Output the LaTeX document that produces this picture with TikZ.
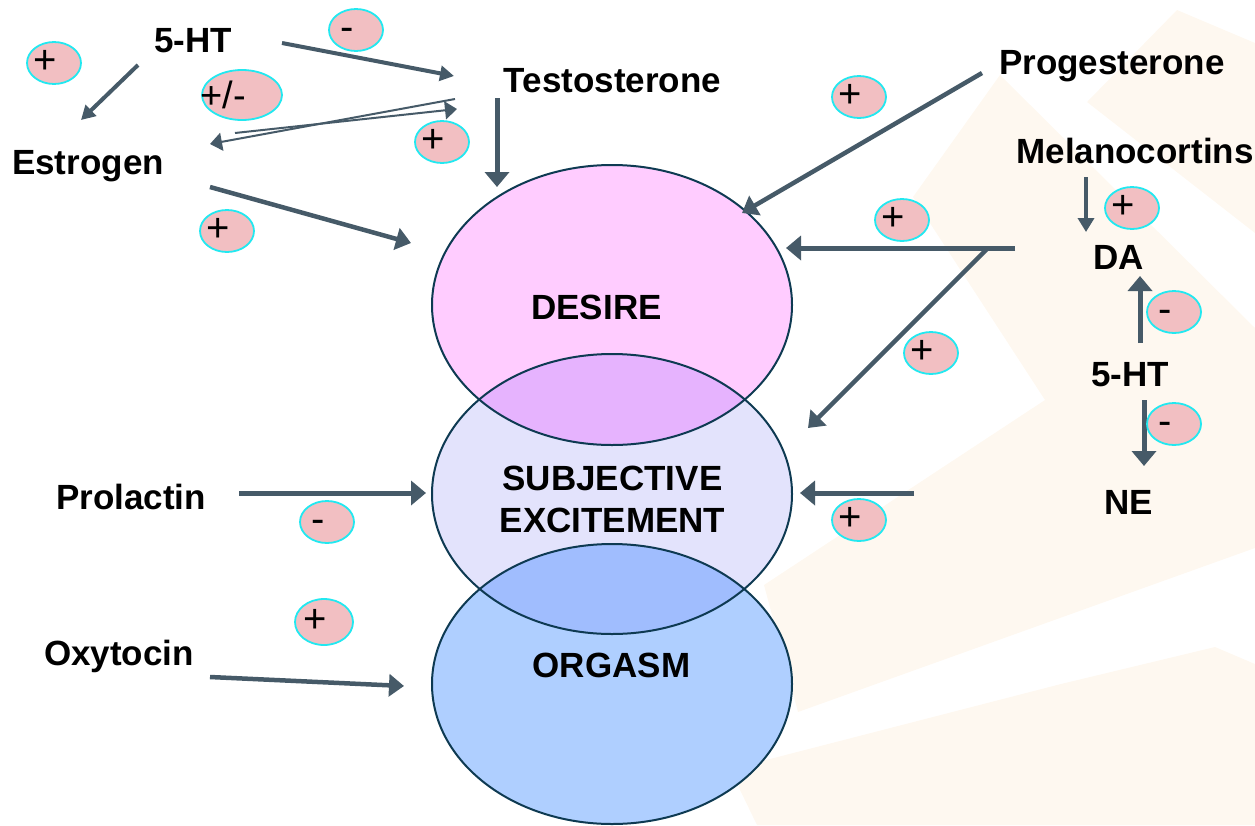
\documentclass[tikz,border=0pt]{standalone}
\usepackage{fontspec}
\setmainfont{Liberation Sans}
\usetikzlibrary{arrows.meta,shapes.geometric}
\definecolor{arrowc}{HTML}{465A68}
\definecolor{edgec}{HTML}{0E3A52}
\definecolor{cream}{HTML}{FEF8F0}
\definecolor{badgefill}{HTML}{F2BFC2}
\definecolor{badgeedge}{HTML}{22E8F0}
\definecolor{cdesire}{HTML}{FFCCFF}
\definecolor{cexcite}{HTML}{E3E3FC}
\definecolor{corgasm}{HTML}{AFCFFF}
\definecolor{cover}{HTML}{E6B3FE}
\definecolor{covertwo}{HTML}{A0BDFE}
\tikzset{
  lbl/.style={font=\bfseries\fontsize{35}{42}\selectfont,text=black,inner sep=0pt,align=center},
  phase/.style={ellipse,minimum width=360pt,minimum height=280pt,inner sep=0pt,draw=edgec,line width=2pt},
  badge/.style={ellipse,minimum width=54pt,minimum height=42pt,inner sep=0pt,fill=badgefill,draw=badgeedge,line width=1.8pt,font=\fontsize{40}{40}\selectfont},
  bigbadge/.style={badge,minimum width=80pt,minimum height=50pt,font=\fontsize{38}{38}\selectfont},
  big arrow/.style={draw=arrowc,line width=5pt,-{Triangle[length=15pt,width=24pt]}},
  wide arrow/.style={draw=arrowc,line width=4.5pt,-{Triangle[length=15pt,width=22pt]}},
  mid arrow/.style={draw=arrowc,line width=4.5pt,-{Triangle[length=14pt,width=16pt]}},
  slim arrow/.style={draw=arrowc,line width=4pt,-{Triangle[length=14pt,width=15pt]}},
  thin arrow/.style={draw=arrowc,line width=2pt,-{Triangle[length=12pt,width=18pt]}},
}
\newcommand{\sgn}[1]{\makebox[0pt]{\raisebox{2pt}{\vphantom{+}#1}\kern18pt}}
\begin{document}
\begin{tikzpicture}[x=1pt,y=-1pt]
\useasboundingbox (0,0) rectangle (1255,825);
% background swoosh
\fill[cream] (1000,75) -- (1255,328) -- (1255,548) -- (798,712) -- (764,585) -- (1045,400) -- (913,197) -- cycle;
\fill[cream] (1177,10) -- (1087,102) -- (1255,233) -- (1255,43) -- cycle;
\fill[cream] (735,768) -- (1061,684) -- (1215,647) -- (1255,664) -- (1255,825) -- (757,825) -- (740,790) -- cycle;
% phases: fills and overlaps
\fill[cdesire] (612,305) ellipse [x radius=180pt,y radius=140pt];
\fill[cexcite] (612,494) ellipse [x radius=180pt,y radius=140pt];
\fill[corgasm] (612,684) ellipse [x radius=180pt,y radius=140pt];
\begin{scope}
\clip (612,305) ellipse [x radius=180pt,y radius=140pt];
\fill[cover] (612,494) ellipse [x radius=180pt,y radius=140pt];
\end{scope}
\begin{scope}
\clip (612,494) ellipse [x radius=180pt,y radius=140pt];
\fill[covertwo] (612,684) ellipse [x radius=180pt,y radius=140pt];
\end{scope}
\node[phase] (desire) at (612,305) {};
\node[phase] (excite) at (612,494) {};
\node[phase] (orgasm) at (612,684) {};
% labels
\node[lbl] (tdesire) at (596.5,307) {DESIRE};
\node[lbl] (texcite) at (612.5,499) {SUBJECTIVE\\EXCITEMENT};
\node[lbl] (torgasm) at (611.5,665) {ORGASM};
\node[lbl] (htl) at (193,40.5) {5-HT};
\node[lbl] (estrogen) at (88,166) {Estrogen};
\node[lbl] (testo) at (612.5,80.5) {Testosterone};
\node[lbl] (proges) at (1112,66) {Progesterone};
\node[lbl] (melano) at (1135,151) {Melanocortins};
\node[lbl] (da) at (1118.5,257) {DA};
\node[lbl] (htr) at (1130,375) {5-HT};
\node[lbl] (ne) at (1128.5,502) {NE};
\node[lbl] (prolactin) at (131,497) {Prolactin};
\node[lbl] (oxytocin) at (119,656) {Oxytocin};
% connector ends
\coordinate (a1) at (138,65); \coordinate (a2) at (81,120);
\coordinate (b1) at (282,43); \coordinate (b2) at (454,76);
\coordinate (c1) at (455,99); \coordinate (c2) at (210,144);
\coordinate (d1) at (235,133); \coordinate (d2) at (457,109);
\coordinate (e1) at (497,98); \coordinate (e2) at (497,187);
\coordinate (f1) at (210,187); \coordinate (f2) at (411,243);
\coordinate (g1) at (982,73); \coordinate (g2) at (742,213);
\coordinate (h1) at (1015,248); \coordinate (h2) at (786,248);
\coordinate (i1) at (988,248); \coordinate (i2) at (808,428);
\coordinate (j1) at (914,493); \coordinate (j2) at (800,493);
\coordinate (k1) at (239,493); \coordinate (k2) at (426,493);
\coordinate (l1) at (210,677); \coordinate (l2) at (404,686);
\coordinate (m1) at (1086,177); \coordinate (m2) at (1086,232);
\coordinate (n1) at (1140,343); \coordinate (n2) at (1140,276);
\coordinate (o1) at (1144,400); \coordinate (o2) at (1144,466);
% arrows
\draw[slim arrow] (a1) -- (a2);
\draw[slim arrow] (b1) -- (b2);
\draw[thin arrow] (c1) -- (c2);
\draw[thin arrow] (d1) -- (d2);
\draw[big arrow] (e1) -- (e2);
\draw[wide arrow] (f1) -- (f2);
\draw[wide arrow] (g1) -- (g2);
\draw[big arrow] (h1) -- (h2);
\draw[wide arrow] (i1) -- (i2);
\draw[big arrow] (j1) -- (j2);
\draw[big arrow] (k1) -- (k2);
\draw[wide arrow] (l1) -- (l2);
\draw[mid arrow] (m1) -- (m2);
\draw[big arrow] (n1) -- (n2);
\draw[big arrow] (o1) -- (o2);
% badges
\node[badge] (p1) at (54,63) {\sgn{+}};
\node[badge] (p2) at (356,30) {\sgn{-}};
\node[bigbadge] (p3) at (242,95) {\makebox[0pt]{+/-\kern38pt}};
\node[badge] (p4) at (442,142) {\sgn{+}};
\node[badge] (p5) at (227,231) {\sgn{+}};
\node[badge] (p6) at (859,97) {\sgn{+}};
\node[badge] (p7) at (902,220) {\sgn{+}};
\node[badge] (p8) at (1132,208) {\sgn{+}};
\node[badge] (p9) at (1174,312) {\sgn{-}};
\node[badge] (p10) at (931,353) {\sgn{+}};
\node[badge] (p11) at (1174,424) {\sgn{-}};
\node[badge] (p12) at (859,520) {\sgn{+}};
\node[badge] (p13) at (327,522) {\sgn{-}};
\node[badge,minimum width=58pt,minimum height=46pt] (p14) at (324,622) {\sgn{+}};
\end{tikzpicture}
\end{document}
